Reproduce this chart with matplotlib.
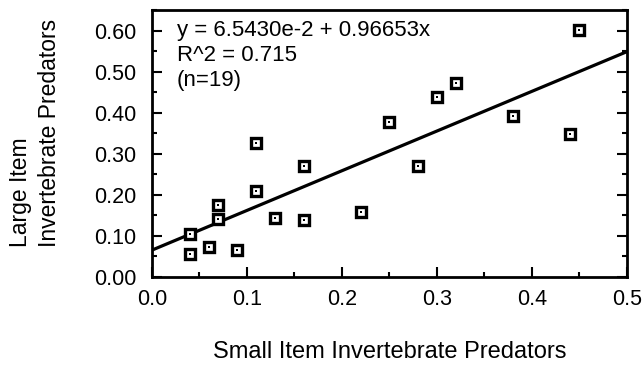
#!/usr/bin/env python3

import numpy as np
import matplotlib as mpl
mpl.use("Agg")
import matplotlib.pyplot as plt
from matplotlib.ticker import MultipleLocator, FormatStrFormatter

mpl.rcParams.update({
    "font.family": ["Liberation Sans", "DejaVu Sans"],
    "font.size": 14,
})

# proportion of diet items per predator group
small_items = [0.04, 0.04, 0.06, 0.07, 0.07, 0.09, 0.11, 0.11, 0.13, 0.16,
               0.16, 0.22, 0.25, 0.28, 0.30, 0.32, 0.38, 0.44, 0.45]
large_items = [0.055, 0.105, 0.072, 0.176, 0.140, 0.066, 0.209, 0.327, 0.144, 0.269,
               0.138, 0.157, 0.378, 0.269, 0.438, 0.472, 0.393, 0.347, 0.601]

# least-squares fit reported on the chart
intercept = 6.5430e-2
slope     = 0.96653
r_squared = 0.715

x_bounds = (0.0, 0.5)
y_bounds = (0.0, 0.65)

fig = plt.figure(figsize=(6.44, 3.66), dpi=100)
ax  = fig.add_axes([0.236, 0.2432, 0.7376, 0.7295])

x_fit = np.linspace(x_bounds[0], x_bounds[1], 50)
ax.plot(x_fit, intercept + slope * x_fit, color="black", linewidth=2.3,
        solid_capstyle="butt", zorder=2)

ax.plot(small_items, large_items, linestyle="none", marker="s",
        markersize=7.8, markerfacecolor="white", markeredgecolor="black",
        markeredgewidth=2.4, zorder=3)
ax.plot(small_items, large_items, linestyle="none", marker="s",
        markersize=1.5, markerfacecolor="black", markeredgecolor="black",
        markeredgewidth=0.0, zorder=4)

ax.set_xlim(x_bounds)
ax.set_ylim(y_bounds)

ax.xaxis.set_major_locator(MultipleLocator(0.1))
ax.xaxis.set_minor_locator(MultipleLocator(0.05))
ax.yaxis.set_major_locator(MultipleLocator(0.1))
ax.yaxis.set_minor_locator(MultipleLocator(0.05))
ax.xaxis.set_major_formatter(FormatStrFormatter("%.1f"))
ax.yaxis.set_major_formatter(FormatStrFormatter("%.2f"))

ax.tick_params(which="both", direction="in", left=True, right=True,
               bottom=True, top=False, width=1.5, labelsize=15.5)
ax.tick_params(which="major", length=7)
ax.tick_params(which="minor", length=3.5)
ax.tick_params(axis="x", which="major", pad=9)
ax.tick_params(axis="y", which="major", pad=11)

for spine in ax.spines.values():
    spine.set_linewidth(2.0)

fit_lines = [
    "y = 6.5430e-2 + 0.96653x",
    "R^2 = %.3f" % r_squared,
    "(n=%d)" % len(small_items),
]
for i, line in enumerate(fit_lines):
    ax.text(0.052, 0.922 - 0.093 * i, line, transform=ax.transAxes,
            fontsize=16, ha="left", va="center")

ax.set_xlabel("Small Item Invertebrate Predators", fontsize=17, labelpad=22)
ax.set_ylabel("Large Item\nInvertebrate Predators", fontsize=16.5,
              linespacing=1.3, multialignment="left")
ax.yaxis.set_label_coords(-0.192, 0.54)

fig.savefig("out.png", dpi=100)
